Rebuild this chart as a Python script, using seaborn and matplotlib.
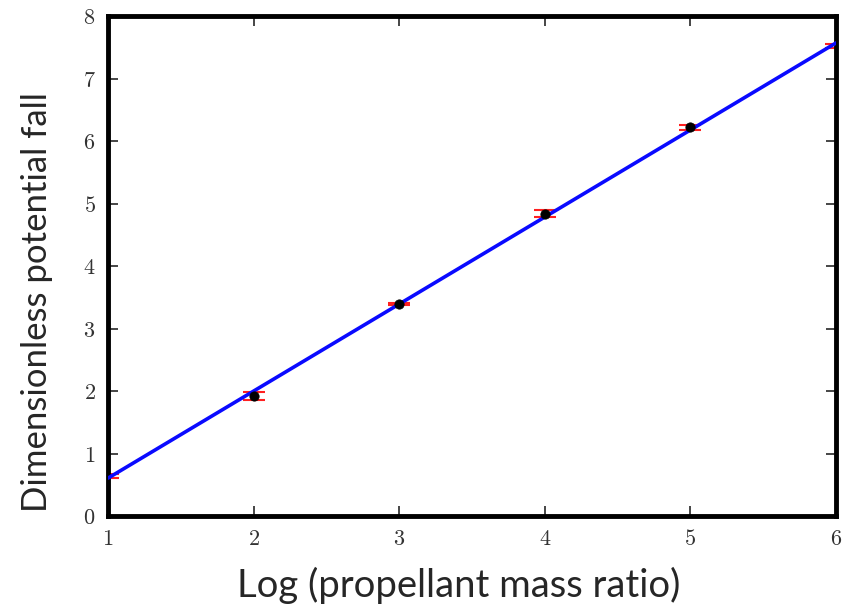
import numpy as np
import matplotlib.pyplot as plt
import seaborn as sns

# data
log_ratio = [1, 2, 3, 4, 5, 6]
potential_fall = [0.64, 1.92, 3.39, 4.84, 6.22, 7.52]
err = [0.03, 0.06, 0.02, 0.05, 0.04, 0.03]
shown_points = [2, 3, 4, 5]  # dots drawn only for the inner points

sns.set_style("ticks")
plt.rcParams["mathtext.fontset"] = "cm"

fig = plt.figure(figsize=(8.54, 6.06), dpi=100)
ax = fig.add_axes([0.1265, 0.1485, 0.8525, 0.825])

# linear fit
m, b = np.polyfit(log_ratio, potential_fall, deg=1)
xfit = np.array([log_ratio[0], log_ratio[-1]])
sns.lineplot(x=xfit, y=m * xfit + b, color="#0a0aff", linewidth=2.6, ax=ax, zorder=3)

ax.errorbar(log_ratio, potential_fall, yerr=err, fmt="none", ecolor="#ff2020",
            elinewidth=1.5, capsize=8, capthick=1.5, zorder=2)

idx = [log_ratio.index(v) for v in shown_points]
sns.scatterplot(x=[log_ratio[i] for i in idx], y=[potential_fall[i] for i in idx],
                color="black", s=45, edgecolor="black", ax=ax, zorder=4)

ax.set_xlim(1, 6)
ax.set_ylim(0, 8)
ax.set_xticks(range(1, 7))
ax.set_yticks(range(0, 9))
ax.set_xticklabels([f"${v}$" for v in range(1, 7)])
ax.set_yticklabels([f"${v}$" for v in range(0, 9)])
ax.tick_params(direction="in", top=True, right=True, length=7, width=1.2,
               labelsize=16, labelcolor="#333333", pad=9)

for s in ax.spines.values():
    s.set_linewidth(3.5)
    s.set_color("black")

ax.set_xlabel("Log (propellant mass ratio)", fontsize=27.5, family="Lato",
              va="center", ha="center")
ax.set_ylabel("Dimensionless potential fall", fontsize=25, family="Lato",
              va="center", ha="center")
ax.xaxis.set_label_coords(0.481, -0.138)
ax.yaxis.set_label_coords(-0.0975, 0.428)

fig.savefig("out.png", dpi=100)
